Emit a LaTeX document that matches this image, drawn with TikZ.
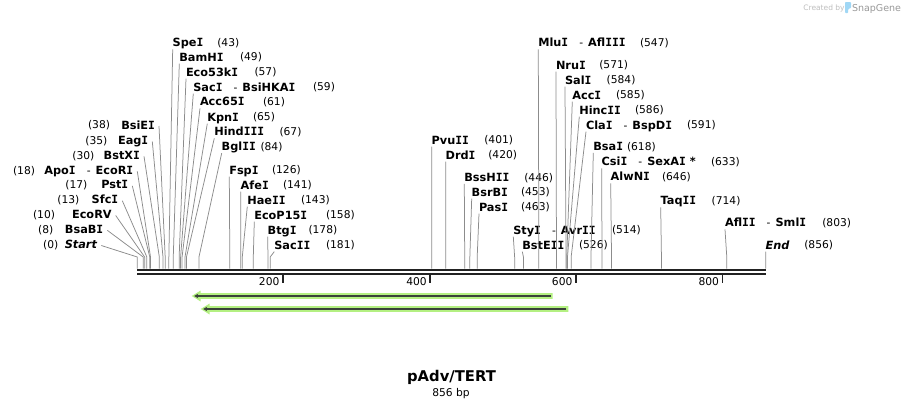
\documentclass[tikz,border=0pt]{standalone}
\usepackage{fontspec}
\setmainfont{DejaVu Sans}
\newfontfamily\monoIfont{DejaVu Sans Mono}
\usetikzlibrary{arrows.meta}
\definecolor{cutgray}{RGB}{140,140,140}
\definecolor{axisdark}{RGB}{34,34,34}
\definecolor{featgreen}{RGB}{180,240,130}
\definecolor{featdark}{RGB}{58,66,58}
\definecolor{logoblue}{RGB}{160,215,245}
\newcommand\enzhy{\hspace{11pt}{\mdseries\fontsize{10.7}{12}\selectfont -}\hspace{5pt}}
\newcommand\vI{{\monoIfont I}}
\begin{document}
\begin{tikzpicture}[x=1pt,y=-1pt,
  every node/.style={inner sep=0pt,outer sep=0pt,font=\fontsize{10.7}{12}\selectfont,text height=7.8pt,text depth=0pt},
  enzname/.style={font=\fontsize{11.3}{13}\selectfont\bfseries,text height=8.2pt},
  enznum/.style={},
  cutline/.style={draw=cutgray,line width=0.75pt},
  ticklab/.style={anchor=east}]
\fill[white] (0,0) rectangle (903,408);
\useasboundingbox (0,0) rectangle (903,408);

% right-hand labels
\foreach \nm/\lx/\ly/\nx/\bp [count=\i] in {
 Spe\vI/172.7/42.7/217.3/43,
 BamH\vI/179.3/57/240/49,
 Eco53k\vI/186/72/254.5/57,
 Sac\vI\enzhy BsiHKA\vI/193.3/87/313/59,
 Acc65\vI/200/101.7/263/61,
 Kpn\vI/207.3/117/253/65,
 Hind\vI\vI\vI/214.3/131.7/279.5/67,
 Bgl\vI\vI/221.7/146.5/260.5/84,
 Fsp\vI/229.3/170/272/126,
 Afe\vI/240.7/185/283/141,
 Hae\vI\vI/247.3/200/301/143,
 EcoP15\vI/254.3/215/326/158,
 Btg\vI/267.7/230/308.5/178,
 Sac\vI\vI/274.3/245/326/181,
 Pvu\vI\vI/431.7/140/484.3/401,
 Drd\vI/445.7/155/488.3/420,
 BssH\vI\vI/464.3/177.3/524.3/446,
 BsrB\vI/471.7/192/521/453,
 Pas\vI/479/207/521/463,
 Sty\vI\enzhy Avr\vI\vI/513.3/230/612/514,
 BstE\vI\vI/522.3/245/579/526,
 Mlu\vI\enzhy Afl\vI\vI\vI/538.3/42.7/640/547,
 Nru\vI/556/65/599.3/571,
 Sal\vI/565/80/606.7/584,
 Acc\vI/572.3/95/616/585,
 Hinc\vI\vI/579.3/110/635/586,
 Cla\vI\enzhy BspD\vI/586/125/687/591,
 Bsa\vI/593.3/146.3/627/618,
 Csi\vI\enzhy SexA\vI\ */601.7/161.7/711/633,
 AlwN\vI/610.7/176.7/662/646,
 Taq\vI\vI/660.7/200.7/711.7/714,
 Afl\vI\vI\enzhy Sml\vI/725/222.7/822.3/803,
 \textit{End}/765.7/245/804.3/856}
{
 \node[enzname,anchor=west] (rn\i) at (\lx,\ly) {\nm};
 \node[enznum,anchor=west] (rv\i) at (\nx,\ly) {(\bp)};
 \coordinate (rk\i) at ({137.3+0.7341*\bp},257);
 \coordinate (rc\i) at ({137.3+0.7341*\bp},268.5);
 \draw[cutline] ([yshift=-2.5pt]rn\i.south west) -- (rk\i) -- (rc\i);
}

% left-hand labels
\foreach \nm/\ex/\ly/\nx/\bp [count=\i] in {
 BsiE\vI/155/125/110/38,
 Eag\vI/148.3/140.5/107.3/35,
 BstX\vI/140/155.3/94.3/30,
 Apo\vI\enzhy EcoR\vI/133.3/170.3/35/18,
 Pst\vI/128.3/184.8/87.3/17,
 Sfc\vI/118.3/199.7/79.3/13,
 EcoRV/111.7/214.5/55/10,
 BsaB\vI/103.3/229.3/53.3/8,
 \textit{Start}/97.3/244.5/58.3/0}
{
 \node[enzname,anchor=east] (ln\i) at (\ex,\ly) {\nm};
 \node[enznum,anchor=east] (lv\i) at (\nx,\ly) {(\bp)};
 \coordinate (lk\i) at ({137.3+0.7341*\bp},257);
 \coordinate (lc\i) at ({137.3+0.7341*\bp},268.5);
 \draw[cutline] ([xshift=4pt,yshift=-1pt]ln\i.east) -- (lk\i) -- (lc\i);
}

% sequence axis
\coordinate (axL) at (137.3,270);
\coordinate (axR) at (765.7,270);
\coordinate (axL2) at (137.3,274.3);
\coordinate (axR2) at (765.7,274.3);
\draw[axisdark,line width=2.4pt] (axL) -- (axR);
\draw[axisdark,line width=2pt] (axL2) -- (axR2);
\foreach \t/\tx [count=\i] in {200/282.9,400/430.2,600/575.9,800/722.5}
{
 \draw[axisdark,line width=1.5pt] (\tx,273.5) -- (\tx,283);
 \node[ticklab] (tk\i) at ({\tx-3.5},281.5) {\t};
}

% features
\foreach \tip/\tail/\yy in {191.7/552.7/296,200.7/568.3/309}
{
 \fill[featgreen] (\tip,\yy) -- ({\tip+9},{\yy-5.5}) -- ({\tip+9},{\yy-2.9}) -- (\tail,{\yy-2.9})
   -- (\tail,{\yy+2.9}) -- ({\tip+9},{\yy+2.9}) -- ({\tip+9},{\yy+5.5}) -- cycle;
 \draw[featdark,line width=1.6pt,-{Stealth[length=4pt,width=4.5pt]}] ({\tail-2},\yy) -- ({\tip+2.5},\yy);
}

% title
\node[font=\fontsize{14.8}{17}\selectfont\bfseries,text height=10.5pt] (title) at (451.5,376) {pAdv/TERT};
\node (size) at (451,393) {856 bp};

% watermark
\node[font=\fontsize{7.5}{9}\selectfont,text height=5.5pt,text=black!25] (cby) at (824,7.5) {Created by};
\fill[logoblue,rounded corners=0.8pt] (845,2) -- (851,2) -- (851,8) -- (848.2,9) -- (848.2,13) -- (845,13) -- cycle;
\node[font=\fontsize{9.5}{11}\selectfont,text height=7pt,text=black!40] (sg) at (876.5,7.5) {SnapGene};
\end{tikzpicture}
\end{document}
